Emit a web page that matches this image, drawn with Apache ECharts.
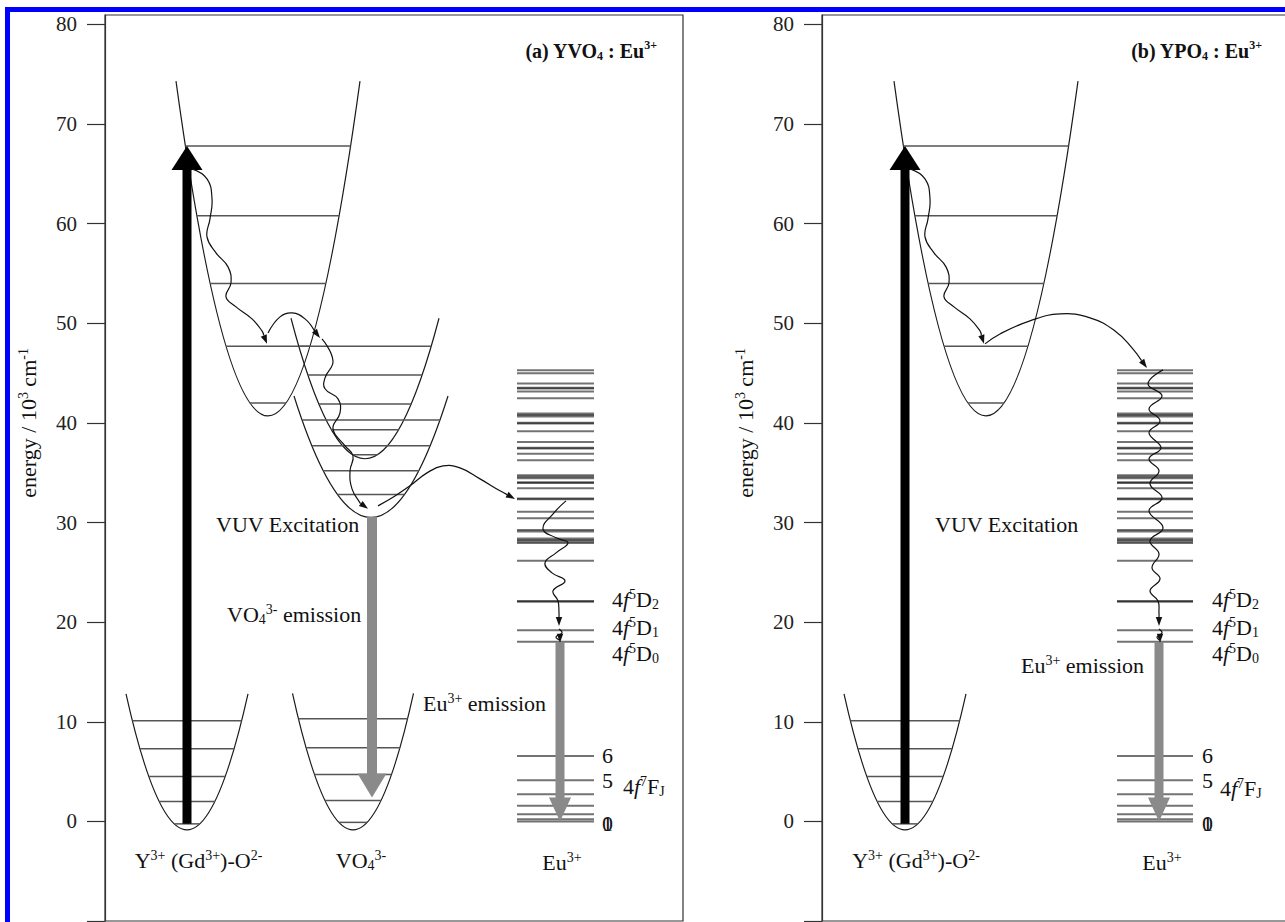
<!DOCTYPE html>
<html><head><meta charset="utf-8">
<script src="https://cdn.jsdelivr.net/npm/echarts@6/dist/echarts.min.js"></script>
<style>
html,body{margin:0;padding:0;background:#fff;}
#wrap{position:relative;width:1285px;height:922px;overflow:hidden;background:#fff;}
#chart{position:absolute;left:0;top:0;width:1285px;height:922px;}
#frame{position:absolute;left:5px;top:7px;width:1400px;height:1000px;border-left:5px solid #0000ff;border-top:5px solid #0000ff;pointer-events:none;}
</style></head>
<body><div id="wrap"><div id="chart"></div><div id="frame"></div></div>
<script>
// ---------------- DATA ----------------
// energy axis (10^3 cm^-1)
const energyTicks = [-10, 0, 10, 20, 30, 40, 50, 60, 70, 80];
const energyLabels = [0, 10, 20, 30, 40, 50, 60, 70, 80];

// potential wells: [centre (config. coord.), minimum energy, half-width at top, energy at top]
const wellsA = [[82, -0.85, 61, 12.8], [163, 40.7, 92, 74.3], [248, -0.85, 60.5, 12.85], [260, 36.4, 74, 50.5], [266, 30.5, 77, 42.7]];
const wellLevelsA = [[10.1, 7.3, 4.5, 2.0, -0.25], [67.8, 60.8, 54.0, 47.7, 42.0], [10.3, 7.4, 4.7, 2.1, -0.1], [47.7, 44.8, 41.9, 39.3, 36.8], [40.3, 37.7, 35.2, 32.8]];
const wellsB = [[83, -0.85, 61, 12.8], [164, 40.7, 92, 74.3]];
const wellLevelsB = [[10.1, 7.3, 4.5, 2.0, -0.25], [67.8, 60.8, 54.0, 47.7, 42.0]];

// Eu3+ energy levels
const euLevels = [45.29, 44.99, 43.95, 43.52, 43.44, 43.14, 42.48, 40.95, 40.80, 40.65, 40.01, 39.93, 39.16, 38.09, 37.50, 37.42, 36.89, 36.25,
  34.75, 34.60, 34.45, 34.05, 33.97, 33.44, 32.41, 32.33, 31.07, 30.43, 29.25, 29.10, 28.40, 28.25, 28.10, 27.95, 26.15,
  22.13, 22.05, 19.19, 18.02, 6.57, 4.13, 2.73, 1.56, 0.72, 0.22, 0.0];

// radiative transitions: [x, start energy, end energy]
const vuvA = [82, -0.25, 67.8];
const vo4EmA = [267, 30.6, 2.4];
const euEmA = [455, 18.0, 0.0];
const vuvB = [83, -0.25, 67.8];
const euEmB = [337, 18.0, 0.0];

// non-radiative relaxation / transfer paths [x, energy]
const relaxA = [
  [[87, 65.49], [102, 64.49], [107, 62.49], [105, 60.48], [102, 58.67], [111, 57.07], [123, 55.66], [126, 54.06], [121, 52.65], [131, 51.64], [147, 50.44], [157, 49.23], [162, 47.93]],
  [[163, 49.03], [175, 50.64], [187, 51.04], [200, 50.44], [215, 48.53]],
  [[217, 48.43], [228, 46.22], [220, 44.52], [220, 43.42], [233, 42.41], [235, 41.00], [228, 39.40], [240, 37.70], [248, 36.70], [245, 35.18], [247, 33.38], [255, 31.97], [263, 31.37]],
  [[273, 31.67], [290, 32.67], [305, 33.68], [322, 34.98], [338, 35.68], [355, 35.48], [375, 34.38], [395, 33.18], [410, 32.37]],
  [[461, 32.17], [449, 30.97], [438, 29.36], [451, 28.46], [463, 27.96], [451, 26.95], [440, 25.95], [447, 24.94], [460, 24.14], [448, 23.14], [453, 22.13], [454, 20.93], [454, 19.62]],
  [[454, 19.32], [457, 18.92], [451, 18.52], [455, 18.22], [455, 17.92]]
];
const relaxB = [
  [[88, 65.49], [103, 64.49], [108, 62.49], [106, 60.48], [103, 58.67], [112, 57.07], [124, 55.66], [127, 54.06], [122, 52.65], [132, 51.64], [148, 50.44], [158, 49.23], [162, 47.93]],
  [[163, 47.93], [178, 48.93], [208, 50.24], [238, 50.94], [268, 50.54], [293, 49.23], [310, 47.53], [325, 45.52]],
  [[341, 45.32], [326, 43.91], [340, 42.71], [327, 41.41], [338, 40.20], [327, 39.00], [339, 37.50], [327, 36.39], [337, 35.18], [328, 33.88], [340, 32.47], [327, 31.17], [341, 29.46], [328, 28.16], [337, 26.85], [330, 25.45], [338, 24.34], [328, 23.14], [336, 22.13], [337, 20.93], [337, 19.62]],
  [[337, 19.32], [340, 18.92], [335, 18.52], [338, 18.22], [338, 17.92]]
];

// text labels
const txtYO = '{n|Y}{sup|3+}{n| (Gd}{sup|3+}{n|)-O}{sup|2-}';
const txtEu = '{n|Eu}{sup|3+}';
const txtAxis = '{n|energy / 10}{sup|3}{n| cm}{sup|-1}';
const labelsA = [
  {p: [552, 77.34], a: 'right', t: '{b|(a) YVO}{bsub|4}{b| : Eu}{bsup|3+}'},
  {p: [111, 29.76], a: 'left', t: '{n|VUV Excitation}'},
  {p: [122, 20.73], a: 'left', t: '{n|VO}{sub|4}{sup|3-}{n| emission}'},
  {p: [318, 11.79], a: 'left', t: '{n|Eu}{sup|3+}{n| emission}'},
  {p: [93.5, -3.96], a: 'center', t: txtYO},
  {p: [256, -3.96], a: 'center', t: '{n|VO}{sub|4}{sup|3-}'},
  {p: [457, -4.17], a: 'center', t: txtEu},
  {p: [507, 22.25], a: 'left', t: '{n|4}{i|f}{sup|5}{n|D}{sub|2}'},
  {p: [507, 19.5], a: 'left', t: '{n|4}{i|f}{sup|5}{n|D}{sub|1}'},
  {p: [507, 16.85], a: 'left', t: '{n|4}{i|f}{sup|5}{n|D}{sub|0}'},
  {p: [497, 6.57], a: 'left', t: '{n|6}'},
  {p: [497, 4.07], a: 'left', t: '{n|5}'},
  {p: [497, -0.25], a: 'left', t: '{n|0}'},
  {p: [497, -0.25], a: 'left', t: '{n|1}'},
  {p: [518, 3.46], a: 'left', t: '{n|4}{i|f}{sup|7}{n|F}{sub|J}'},
  {p: [-77, 40.0], a: 'center', r: 1, t: txtAxis}
];
const labelsB = [
  {p: [440, 77.34], a: 'right', t: '{b|(b) YPO}{bsub|4}{b| : Eu}{bsup|3+}'},
  {p: [113, 29.76], a: 'left', t: '{n|VUV Excitation}'},
  {p: [199, 15.61], a: 'left', t: '{n|Eu}{sup|3+}{n| emission}'},
  {p: [94, -3.96], a: 'center', t: txtYO},
  {p: [340, -4.17], a: 'center', t: txtEu},
  {p: [390, 22.25], a: 'left', t: '{n|4}{i|f}{sup|5}{n|D}{sub|2}'},
  {p: [390, 19.5], a: 'left', t: '{n|4}{i|f}{sup|5}{n|D}{sub|1}'},
  {p: [390, 16.85], a: 'left', t: '{n|4}{i|f}{sup|5}{n|D}{sub|0}'},
  {p: [380, 6.57], a: 'left', t: '{n|6}'},
  {p: [380, 4.07], a: 'left', t: '{n|5}'},
  {p: [380, -0.25], a: 'left', t: '{n|0}'},
  {p: [380, -0.25], a: 'left', t: '{n|1}'},
  {p: [398, 3.26], a: 'left', t: '{n|4}{i|f}{sup|7}{n|F}{sub|J}'},
  {p: [-77, 40.0], a: 'center', r: 1, t: txtAxis}
];

// ---------------- STYLES ----------------
const FF = '"Liberation Serif","Times New Roman",Times,serif';
const INK = '#111';
const RICH = {
  n: {fontFamily: FF, fontSize: 22, lineHeight: 24, fill: INK},
  i: {fontFamily: FF, fontSize: 22, lineHeight: 24, fontStyle: 'italic', fill: INK},
  sup: {fontFamily: FF, fontSize: 14, lineHeight: 14, verticalAlign: 'top', fill: INK},
  sub: {fontFamily: FF, fontSize: 14, lineHeight: 14, verticalAlign: 'bottom', fill: INK},
  b: {fontFamily: FF, fontSize: 20, lineHeight: 23, fontWeight: 'bold', fill: INK},
  bsup: {fontFamily: FF, fontSize: 12, lineHeight: 12, fontWeight: 'bold', verticalAlign: 'top', fill: INK},
  bsub: {fontFamily: FF, fontSize: 12, lineHeight: 12, fontWeight: 'bold', verticalAlign: 'bottom', fill: INK}
};
const ST_VUV = {w: 9, hw: 31, hl: 24, color: '#000'};
const ST_VO4 = {w: 10, hw: 29, hl: 24, color: '#8a8a8a'};
const ST_EU = {w: 9, hw: 22, hl: 24, color: '#8a8a8a'};
const PX_PER_UNIT = 9.9625, GRID_H = 906, GRID_W = 578;

// ---------------- RENDERERS ----------------
function wellItem(wells, levels) {
  return function (params, api) {
    const [x0, e0, h, et] = wells[params.dataIndex];
    const pL = api.coord([x0 - h, et]), pR = api.coord([x0 + h, et]), c = api.coord([x0, 2 * e0 - et]);
    const children = [{type: 'bezierCurve', shape: {x1: pL[0], y1: pL[1], x2: pR[0], y2: pR[1], cpx1: c[0], cpy1: c[1]},
      style: {stroke: '#1a1a1a', lineWidth: 1.2, fill: 'none'}}];
    levels[params.dataIndex].forEach(function (E) {
      const hw = h * Math.sqrt(Math.max(0, (E - e0) / (et - e0)));
      const a = api.coord([x0 - hw, E]), b = api.coord([x0 + hw, E]);
      children.push({type: 'line', shape: {x1: a[0], y1: a[1], x2: b[0], y2: b[1]}, style: {stroke: '#555', lineWidth: 1.5}});
    });
    return {type: 'group', children: children};
  };
}
function levelItem(x1, x2) {
  return function (params, api) {
    const E = api.value(1);
    const a = api.coord([x1, E]), b = api.coord([x2, E]);
    return {type: 'line', shape: {x1: a[0], y1: a[1], x2: b[0], y2: b[1]}, style: {stroke: 'rgba(0,0,0,0.55)', lineWidth: 2}};
  };
}
function arrowItem(arrows, styles) {
  return function (params, api) {
    const d = arrows[params.dataIndex], s = styles[params.dataIndex];
    const p0 = api.coord([d[0], d[1]]), p1 = api.coord([d[0], d[2]]);
    let dx = p1[0] - p0[0], dy = p1[1] - p0[1]; const L = Math.hypot(dx, dy); dx /= L; dy /= L;
    const nx = -dy, ny = dx;
    const bx = p1[0] - dx * s.hl, by = p1[1] - dy * s.hl;
    const pts = [
      [p0[0] + nx * s.w / 2, p0[1] + ny * s.w / 2], [bx + nx * s.w / 2, by + ny * s.w / 2], [bx + nx * s.hw / 2, by + ny * s.hw / 2],
      [p1[0], p1[1]], [bx - nx * s.hw / 2, by - ny * s.hw / 2], [bx - nx * s.w / 2, by - ny * s.w / 2], [p0[0] - nx * s.w / 2, p0[1] - ny * s.w / 2]];
    return {type: 'polygon', shape: {points: pts}, style: {fill: s.color}};
  };
}
function curveItem(curves) {
  return function (params, api) {
    const pts = curves[params.dataIndex].map(function (p) { return api.coord(p); });
    const n = pts.length, tip = pts[n - 1], prev = pts[n - 2];
    let dx = tip[0] - prev[0], dy = tip[1] - prev[1]; const L = Math.hypot(dx, dy); dx /= L; dy /= L;
    const hl = 9, hw = 3.2, bx = tip[0] - dx * hl, by = tip[1] - dy * hl;
    const line = pts.slice(0, n - 1).concat([[bx, by]]);
    return {type: 'group', children: [
      {type: 'polyline', shape: {points: line, smooth: 0.45}, style: {stroke: '#111', lineWidth: 1.2, fill: 'none'}},
      {type: 'polygon', shape: {points: [[tip[0], tip[1]], [bx - dy * hw, by + dx * hw], [bx + dy * hw, by - dx * hw]]}, style: {fill: '#111'}}
    ]};
  };
}
function labelItem(labels) {
  return function (params, api) {
    const L = labels[params.dataIndex];
    const p = api.coord(L.p);
    return {type: 'text', x: p[0], y: p[1], rotation: L.r ? Math.PI / 2 : 0,
      style: {text: L.t, rich: RICH, align: L.a, verticalAlign: 'middle', fontFamily: FF, fontSize: 22, fill: INK}};
  };
}
function cs(i, z, data, render) {
  return {type: 'custom', coordinateSystem: 'cartesian2d', xAxisIndex: i, yAxisIndex: i, silent: true, z: z,
    dimensions: ['x', 'y'], encode: {x: 0, y: 1}, data: data, renderItem: render, clip: false};
}
function panelSeries(i, P) {
  return [
    cs(i, 2, P.wells.map(function (w) { return [w[0], w[1]]; }), wellItem(P.wells, P.levels)),
    cs(i, 2, euLevels.map(function (E) { return [P.eu[0], E]; }), levelItem(P.eu[0], P.eu[1])),
    cs(i, 3, P.arrows.map(function (a) { return [a[0], a[1]]; }), arrowItem(P.arrows, P.arrowStyles)),
    cs(i, 4, P.relax.map(function (c) { return c[0]; }), curveItem(P.relax)),
    cs(i, 5, P.labels.map(function (l) { return l.p; }), labelItem(P.labels))
  ];
}
function yAx(i) {
  return {gridIndex: i, type: 'value', min: -10, max: -10 + GRID_H / PX_PER_UNIT, position: 'left',
    axisLine: {show: true, lineStyle: {color: '#333', width: 1.2}},
    axisTick: {show: true, inside: false, length: 18, lineStyle: {color: '#333', width: 1.2}, customValues: energyTicks},
    axisLabel: {show: true, margin: 28, fontFamily: FF, fontSize: 21, color: '#222', customValues: energyLabels},
    splitLine: {show: false}};
}
function xAx(i) { return {gridIndex: i, type: 'value', min: 0, max: GRID_W, show: false}; }

const chart = echarts.init(document.getElementById('chart'), null, {renderer: 'svg', width: 1285, height: 922});
chart.setOption({
  animation: false,
  backgroundColor: '#fff',
  grid: [
    {left: 105, top: 15, width: GRID_W, height: GRID_H, show: true, borderColor: '#333', borderWidth: 1.2, outerBoundsMode: 'none', containLabel: false},
    {left: 822, top: 15, width: GRID_W, height: GRID_H, show: true, borderColor: '#333', borderWidth: 1.2, outerBoundsMode: 'none', containLabel: false}
  ],
  xAxis: [xAx(0), xAx(1)],
  yAxis: [yAx(0), yAx(1)],
  series: [].concat(
    panelSeries(0, {wells: wellsA, levels: wellLevelsA, eu: [412, 489], arrows: [vuvA, vo4EmA, euEmA], arrowStyles: [ST_VUV, ST_VO4, ST_EU], relax: relaxA, labels: labelsA}),
    panelSeries(1, {wells: wellsB, levels: wellLevelsB, eu: [295, 371], arrows: [vuvB, euEmB], arrowStyles: [ST_VUV, ST_EU], relax: relaxB, labels: labelsB})
  )
});
</script></body></html>
